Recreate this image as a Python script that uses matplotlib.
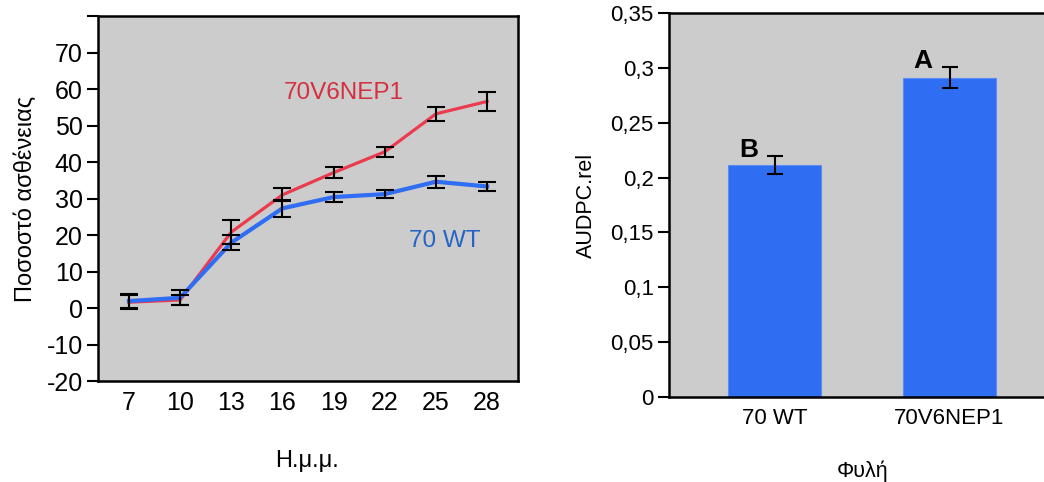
import matplotlib
matplotlib.use("Agg")
import matplotlib.pyplot as plt
from matplotlib.ticker import FuncFormatter

plt.rcParams["font.family"] = ["Liberation Sans", "DejaVu Sans"]

# left panel: disease percentage over days after inoculation
days = [7, 10, 13, 16, 19, 22, 25, 28]
nep1_mean = [1.6, 2.2, 20.8, 31.0, 37.1, 42.8, 53.2, 56.6]
nep1_err = [1.9, 1.3, 3.2, 1.8, 1.5, 1.3, 2.0, 2.5]
wt_mean = [1.9, 2.8, 17.9, 27.3, 30.4, 31.2, 34.6, 33.3]
wt_err = [1.9, 2.1, 2.1, 2.3, 1.3, 1.0, 1.7, 1.3]
left_yticks = list(range(-20, 81, 10))

# right panel: relative AUDPC per line
lines = ["70 WT", "70V6NEP1"]
audpc = [0.2115, 0.291]
audpc_err = [0.0085, 0.0095]
groups = ["B", "A"]
right_yticks = [0, 0.05, 0.1, 0.15, 0.2, 0.25, 0.3, 0.35]

gray = "#cccccc"
red = "#ec3a4e"
blue = "#2f6df2"

fig = plt.figure(figsize=(10.44, 4.82), dpi=100)

# ---- left panel ----
ax1 = fig.add_axes([0.0939, 0.2095, 0.4023, 0.7573])
ax1.set_facecolor(gray)
ax1.plot(days, nep1_mean, color=red, lw=2.3, zorder=2)
ax1.plot(days, wt_mean, color=blue, lw=3.0, zorder=3)
ax1.errorbar(days, nep1_mean, yerr=nep1_err, fmt="none", ecolor="black",
             elinewidth=1.5, capsize=6.5, capthick=1.5, zorder=4)
ax1.errorbar(days, wt_mean, yerr=wt_err, fmt="none", ecolor="black",
             elinewidth=1.5, capsize=6.5, capthick=1.5, zorder=4)
ax1.set_xlim(5.19, 29.81)
ax1.set_ylim(-20, 80)
ax1.set_xticks(days)
ax1.set_yticks(left_yticks)
ax1.set_yticklabels([str(v) if v != 80 else "" for v in left_yticks])
ax1.tick_params(axis="y", direction="out", length=8, width=1.5, labelsize=18, pad=3)
ax1.tick_params(axis="x", length=0, labelsize=18, pad=7)
for sp in ax1.spines.values():
    sp.set_linewidth(1.8)
ax1.text(19.6, 59.0, "70V6NEP1", color="#d4303f", fontsize=17.5, ha="center", va="center")
ax1.text(25.5, 18.3, "70 WT", color="#2464c8", fontsize=17.5, ha="center", va="center")
ax1.set_ylabel("Ποσοστό ασθένειας", fontsize=17)
ax1.yaxis.set_label_coords(-0.145, 0.5)
ax1.set_xlabel("Η.μ.μ.", fontsize=17)
ax1.xaxis.set_label_coords(0.498, -0.189)

# ---- right panel ----
ax2 = fig.add_axes([0.6408, 0.1763, 0.3592, 0.7967])
ax2.set_facecolor(gray)
xpos = list(range(len(lines)))
ax2.bar(xpos, audpc, width=0.53, color=blue, edgecolor="#5a8cf5", linewidth=0.8, zorder=2)
ax2.errorbar(xpos, audpc, yerr=audpc_err, fmt="none", ecolor="black",
             elinewidth=1.5, capsize=5.8, capthick=1.5, zorder=3)
for x, y, e, g in zip(xpos, audpc, audpc_err, groups):
    ax2.text(x - 0.15, y + e + 0.0055, g, fontsize=19, fontweight="bold",
             ha="center", va="center")
ax2.set_xlim(-0.603, 1.54)
ax2.set_ylim(0, 0.35)
ax2.set_xticks(xpos)
ax2.set_xticklabels(lines)
ax2.set_yticks(right_yticks)
ax2.yaxis.set_major_formatter(FuncFormatter(lambda v, p: f"{v:g}".replace(".", ",")))
ax2.tick_params(axis="y", direction="out", length=8, width=1.5, labelsize=16, pad=3)
ax2.tick_params(axis="x", length=0, labelsize=16, pad=8)
ax2.spines["right"].set_visible(False)
for sp in ax2.spines.values():
    sp.set_linewidth(1.8)
ax2.set_ylabel("AUDPC.rel", fontsize=15.5)
ax2.yaxis.set_label_coords(-0.192, 0.5)
ax2.set_xlabel("Φυλή", fontsize=15.5)
ax2.xaxis.set_label_coords(0.515, -0.164)

fig.savefig("out.png", dpi=100)
